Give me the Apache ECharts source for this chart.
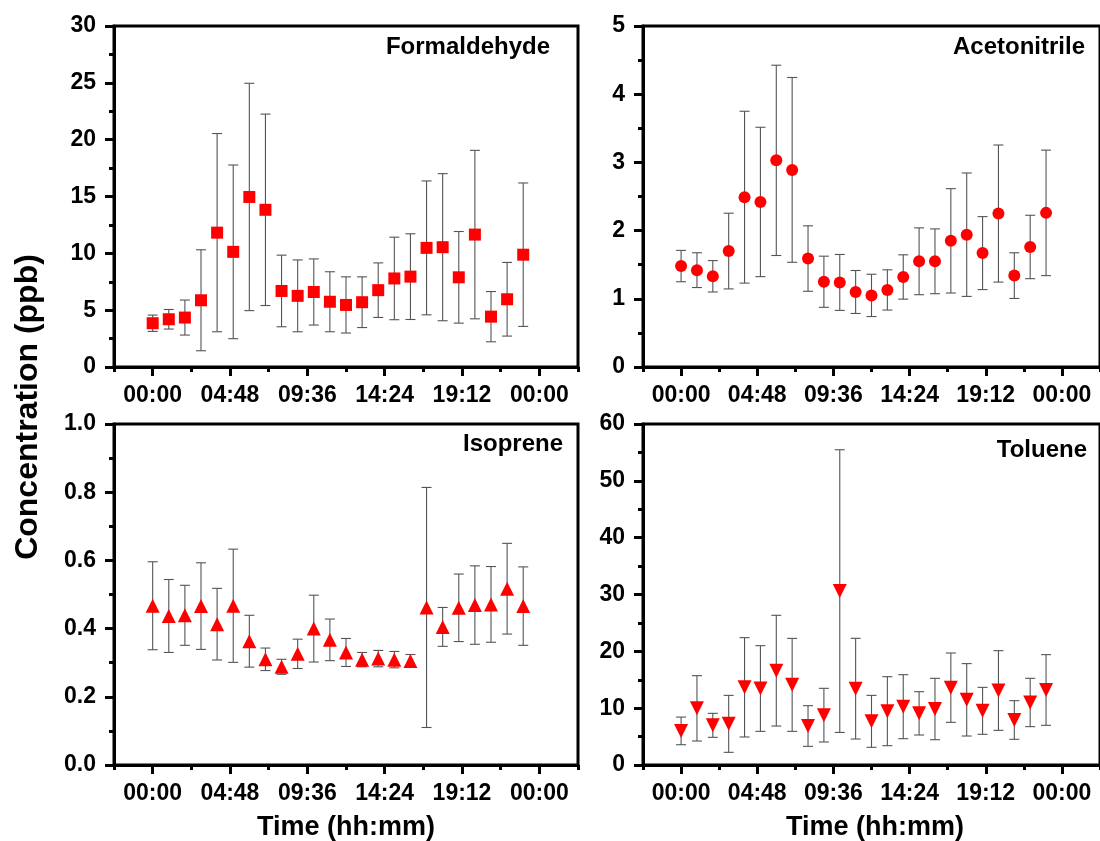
<!DOCTYPE html>
<html>
<head>
<meta charset="utf-8">
<script src="https://cdn.jsdelivr.net/npm/echarts@6/dist/echarts.min.js"></script>
<style>
html,body{margin:0;padding:0;background:#fff;}
#chart{width:1100px;height:841px;}
</style>
</head>
<body>
<div id="chart"></div>
<script>
// ---------- data ----------
const hours = [0,1,2,3,4,5,6,7,8,9,10,11,12,13,14,15,16,17,18,19,20,21,22,23];

const formaldehydeMean = [3.85,4.2,4.35,5.87,11.82,10.13,14.96,13.83,6.69,6.26,6.6,5.74,5.46,5.7,6.76,7.79,7.95,10.48,10.54,7.89,11.65,4.43,5.96,9.88];
const formaldehydeSd   = [0.72,0.86,1.54,4.44,8.72,7.64,10.0,8.42,3.15,3.16,2.91,2.64,2.47,2.23,2.4,3.63,3.77,5.89,6.47,4.03,7.41,2.21,3.24,6.31];

const acetonitrileMean = [1.48,1.42,1.33,1.70,2.49,2.42,3.03,2.89,1.59,1.25,1.24,1.10,1.05,1.13,1.32,1.55,1.55,1.85,1.94,1.67,2.25,1.34,1.76,2.26];
const acetonitrileSd   = [0.23,0.255,0.23,0.555,1.26,1.095,1.395,1.355,0.48,0.375,0.41,0.315,0.31,0.295,0.325,0.49,0.475,0.765,0.905,0.535,1.005,0.335,0.465,0.92];

const isopreneMean = [0.467,0.437,0.439,0.466,0.413,0.467,0.363,0.31,0.288,0.326,0.40,0.367,0.33,0.309,0.312,0.309,0.305,0.462,0.405,0.461,0.469,0.471,0.517,0.466];
const isopreneSd   = [0.129,0.107,0.088,0.127,0.105,0.166,0.076,0.033,0.022,0.043,0.098,0.061,0.041,0.021,0.024,0.024,0.019,0.352,0.057,0.099,0.115,0.111,0.133,0.115];

const tolueneMean = [6.0,9.97,6.98,7.24,13.67,13.46,16.6,14.1,6.86,8.77,30.6,13.43,7.68,9.47,10.26,9.09,9.85,13.61,11.47,9.53,13.11,7.92,11.0,13.2];
const tolueneSd   = [2.43,5.75,2.11,5.01,8.74,7.54,9.74,8.18,3.58,4.72,24.87,8.86,4.57,6.07,5.63,3.81,5.4,6.1,6.37,4.13,7.01,3.4,4.25,6.22];

const majorTimeTicks = [0,4.8,9.6,14.4,19.2,24];
const minorTimeTicks = [-2.4,2.4,7.2,12,16.8,21.6,26.4];

const panelNames = ['Formaldehyde','Acetonitrile','Isoprene','Toluene'];
const yMax = [30,5,1.0,60];
const yInterval = [5,1,0.2,10];
const yDecimals = [0,0,1,0];
const symbols = ['rect','circle','triangle','triangle'];
const symbolRotate = [0,0,0,180];
const symbolSizes = [12,12,14,14];

const means = [formaldehydeMean, acetonitrileMean, isopreneMean, tolueneMean];
const sds = [formaldehydeSd, acetonitrileSd, isopreneSd, tolueneSd];

// ---------- layout ----------
const gridBoxes = [
  {left:114, top:26, width:464, height:341},
  {left:643, top:26, width:464, height:341},
  {left:114, top:424, width:464, height:341},
  {left:643, top:424, width:464, height:341}
];
const FONT = '"Liberation Sans", Arial, sans-serif';

function fmtTime(v){
  let m = Math.round(v*60) % 1440;
  if (m < 0) m += 1440;
  const h = Math.floor(m/60), mm = m%60;
  return String(h).padStart(2,'0') + ':' + String(mm).padStart(2,'0');
}

const grids = [], xAxes = [], yAxes = [], series = [];
gridBoxes.forEach((g,i)=>{
  grids.push(Object.assign({show:true, borderColor:'#000', borderWidth:3, backgroundColor:'transparent'}, g));
  xAxes.push({
    type:'value', gridIndex:i, min:-2.4, max:26.4, position:'bottom',
    axisLine:{show:true, onZero:false, lineStyle:{color:'#000', width:3}},
    axisTick:{show:true, length:9, lineStyle:{color:'#000', width:3}, customValues:majorTimeTicks},
    axisLabel:{show:true, customValues:majorTimeTicks, formatter:fmtTime, color:'#000',
      fontFamily:FONT, fontWeight:'bold', fontSize:23, margin:17},
    splitLine:{show:false}
  });
  xAxes.push({
    type:'value', gridIndex:i, min:-2.4, max:26.4, position:'bottom',
    axisLine:{show:false, onZero:false},
    axisTick:{show:true, length:5, lineStyle:{color:'#000', width:3}, customValues:minorTimeTicks},
    axisLabel:{show:false},
    splitLine:{show:false}
  });
  yAxes.push({
    type:'value', gridIndex:i, min:0, max:yMax[i], interval:yInterval[i],
    axisLine:{show:true, onZero:false, lineStyle:{color:'#000', width:3}},
    axisTick:{show:true, length:9, lineStyle:{color:'#000', width:3}},
    minorTick:{show:true, splitNumber:2, length:5, lineStyle:{color:'#000', width:3}},
    axisLabel:{color:'#000', fontFamily:FONT, fontWeight:'bold', fontSize:23, margin:18,
      formatter:(v)=>v.toFixed(yDecimals[i])},
    splitLine:{show:false}, minorSplitLine:{show:false}
  });

  const errData = hours.map((h,k)=>[h, means[i][k]-sds[i][k], means[i][k]+sds[i][k]]);
  const ptData = hours.map((h,k)=>[h, means[i][k]]);

  series.push({
    type:'custom', xAxisIndex:2*i, yAxisIndex:i, data:errData, z:2,
    encode:{x:0, y:[1,2]},
    renderItem:function(params, api){
      const x = api.value(0), lo = api.value(1), hi = api.value(2);
      const pt = api.coord([x, hi]), pb = api.coord([x, lo]);
      const hw = 5;
      const st = {stroke:'#555', lineWidth:1.1};
      return {type:'group', children:[
        {type:'line', shape:{x1:pt[0], y1:pt[1], x2:pb[0], y2:pb[1]}, style:st},
        {type:'line', shape:{x1:pt[0]-hw, y1:pt[1], x2:pt[0]+hw, y2:pt[1]}, style:st},
        {type:'line', shape:{x1:pb[0]-hw, y1:pb[1], x2:pb[0]+hw, y2:pb[1]}, style:st}
      ]};
    },
    silent:true
  });
  series.push({
    type:'scatter', xAxisIndex:2*i, yAxisIndex:i, data:ptData, z:3,
    symbol:symbols[i], symbolSize:symbolSizes[i], symbolRotate:symbolRotate[i],
    itemStyle:{color:'#ff0000', opacity:1}, silent:true
  });
});

const graphics = [];
const labelPos = [[550,47],[1085,47],[563,444],[1087,450]];
panelNames.forEach((n,i)=>{
  graphics.push({type:'text', x:labelPos[i][0], y:labelPos[i][1],
    style:{text:n, fill:'#000', font:'bold 24px ' + FONT, align:'right', verticalAlign:'middle'}});
});
graphics.push({type:'text', x:346, y:828, style:{text:'Time (hh:mm)', fill:'#000', font:'bold 27px ' + FONT, align:'center', verticalAlign:'middle'}});
graphics.push({type:'text', x:875, y:828, style:{text:'Time (hh:mm)', fill:'#000', font:'bold 27px ' + FONT, align:'center', verticalAlign:'middle'}});
graphics.push({type:'text', x:28, y:407, rotation:Math.PI/2, style:{text:'Concentration (ppb)', fill:'#000', font:'bold 32px ' + FONT, align:'center', verticalAlign:'middle'}});

const chart = echarts.init(document.getElementById('chart'), null, {renderer:'canvas'});
chart.setOption({
  animation:false,
  backgroundColor:'#fff',
  grid:grids, xAxis:xAxes, yAxis:yAxes, series:series, graphic:graphics
});
</script>
</body>
</html>
